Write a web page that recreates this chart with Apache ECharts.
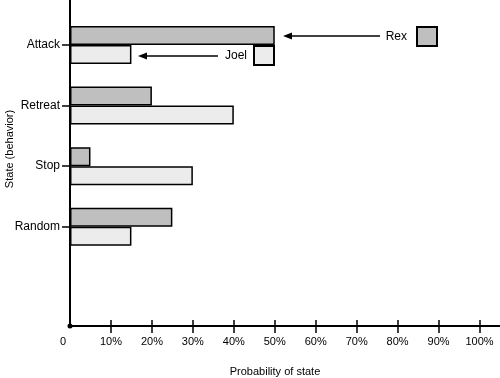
<!DOCTYPE html>
<html>
<head>
<meta charset="utf-8">
<script src="https://cdn.jsdelivr.net/npm/echarts@6/dist/echarts.min.js"></script>
<style>
  html, body { margin: 0; padding: 0; background: #fff; }
  #chart { width: 500px; height: 378px; }
</style>
</head>
<body>
<div id="chart"></div>
<script>
const states = ["Attack", "Retreat", "Stop", "Random"];
const rex = [50, 20, 5, 25];
const joel = [15, 40, 30, 15];
const tickValues = [10, 20, 30, 40, 50, 60, 70, 80, 90, 100];
const labelValues = [0, 10, 20, 30, 40, 50, 60, 70, 80, 90, 100];

const font = "Liberation Sans, Arial, Helvetica, sans-serif";
const rexColor = "#bfbfbf";
const joelColor = "#ececec";

// little arrow: line plus filled head pointing left
function arrow(x1, x2, y) {
  return [
    { type: "line", shape: { x1: x1 + 6, y1: y, x2: x2, y2: y },
      style: { stroke: "#000", lineWidth: 1.3 } },
    { type: "polygon", shape: { points: [[x1, y], [x1 + 9, y - 3.5], [x1 + 9, y + 3.5]] },
      style: { fill: "#000" } }
  ];
}

const chart = echarts.init(document.getElementById("chart"));
chart.setOption({
  animation: false,
  backgroundColor: "#fff",
  textStyle: { fontFamily: font, color: "#000" },
  grid: [
    { left: 70, right: 0, top: 14.7, bottom: 121, outerBoundsMode: "none", containLabel: false },
    { left: 70, right: 0, top: 0, bottom: 52, outerBoundsMode: "none", containLabel: false }
  ],
  legend: [
    {
      data: ["Rex"], right: 62, top: 26, padding: 0, align: "right", icon: "rect",
      itemWidth: 20, itemHeight: 19, selectedMode: false,
      textStyle: { fontSize: 12, fontFamily: font, color: "#000", padding: [0, 5, 0, 0] }
    },
    {
      data: ["Joel"], right: 225, top: 45, padding: 0, align: "right", icon: "rect",
      itemWidth: 20, itemHeight: 19, selectedMode: false,
      textStyle: { fontSize: 12, fontFamily: font, color: "#000", padding: [0, 2, 0, 0] }
    }
  ],
  xAxis: [
    {
      gridIndex: 0, type: "value", min: 0, max: 105, offset: 69,
      axisLine: { show: false },
      axisTick: { show: true, inside: true, length: 6, customValues: tickValues,
        lineStyle: { color: "#000", width: 1.5 } },
      axisLabel: { show: false },
      splitLine: { show: false }
    },
    {
      gridIndex: 1, type: "value", min: 0, max: 105,
      axisLine: { show: true, symbol: ["circle", "none"], symbolSize: [5, 5],
        lineStyle: { color: "#000", width: 2 } },
      axisTick: { show: true, length: 7, customValues: tickValues,
        lineStyle: { color: "#000", width: 1.5 } },
      axisLabel: {
        customValues: labelValues, margin: 10, fontSize: 11, color: "#000", fontFamily: font,
        formatter: v => v === 0 ? "{z|0}" : v + "%",
        rich: { z: { fontSize: 11, fontFamily: font, color: "#000", padding: [0, 14, 0, 0] } }
      },
      splitLine: { show: false },
      name: "Probability of state", nameLocation: "middle", nameGap: 40,
      nameTextStyle: { fontSize: 11, fontFamily: font, color: "#000", padding: [0, 20, 0, 0] }
    }
  ],
  yAxis: [
    {
      gridIndex: 0, type: "category", data: states, inverse: true,
      axisLine: { show: false },
      axisTick: { show: true, alignWithLabel: true, length: 8,
        lineStyle: { color: "#000", width: 1.5 } },
      axisLabel: { fontSize: 12, color: "#000", fontFamily: font, margin: 10 },
      splitLine: { show: false }
    },
    {
      gridIndex: 1, type: "value", min: 0, max: 1,
      axisLine: { show: true, lineStyle: { color: "#000", width: 2 } },
      axisTick: { show: false },
      axisLabel: { show: false },
      splitLine: { show: false },
      name: "State (behavior)", nameLocation: "middle", nameGap: 55, nameRotate: 90,
      nameTextStyle: { fontSize: 11, fontFamily: font, color: "#000", padding: [0, 0, 0, 28] }
    }
  ],
  series: [
    {
      name: "Rex", type: "bar", xAxisIndex: 0, yAxisIndex: 0, data: rex,
      barWidth: 19, barGap: "0%",
      itemStyle: { color: rexColor, borderColor: "#000", borderWidth: 1.5 }
    },
    {
      name: "Joel", type: "bar", xAxisIndex: 0, yAxisIndex: 0, data: joel,
      barWidth: 19, barGap: "0%",
      itemStyle: { color: joelColor, borderColor: "#000", borderWidth: 1.5 }
    }
  ],
  graphic: [].concat(arrow(283, 380, 36), arrow(138, 218, 56))
});
</script>
</body>
</html>
